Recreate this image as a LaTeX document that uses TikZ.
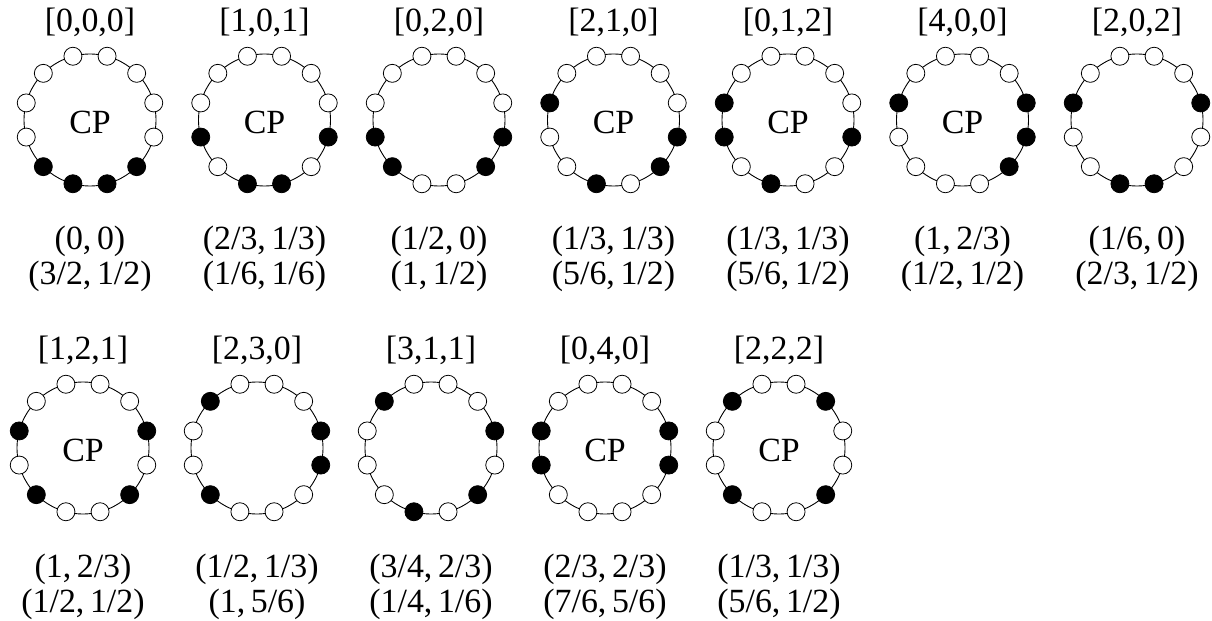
\documentclass[tikz,border=0pt]{standalone}
\usepackage{fontspec}
\setmainfont{Liberation Serif}
\begin{document}
\begin{tikzpicture}[x=1bp,y=-1bp,
  bead/.style={circle,draw,line width=0.8bp,minimum size=18bp,inner sep=0pt},
  ring/.style={circle,draw,line width=0.9bp,minimum size=132bp,inner sep=0pt},
  lbl/.style={font=\fontsize{34}{40}\selectfont,inner sep=0pt},
]
\useasboundingbox (0,0) rectangle (1212,621);
\newcommand\necklace[7]{%
  \node[ring] (#1) at (#2,#3) {};
  \foreach \s [count=\k] in {#5} {
    \pgfmathsetmacro\a{-15+30*\k}
    \node[bead,fill=\s] (#1-\k) at ({#2+66*cos(\a)},{#3-66*sin(\a)}) {};
  }
  \node[lbl] (#1-l) at (#2,#3-98) {#4};
  \node[lbl] (#1-t1) at (#2,#3+121) {#6};
  \node[lbl] (#1-t2) at (#2,#3+156) {#7};
}
% row 1
\necklace{n1}{90}{120}{[0,0,0]}{white,white,white,white,white,white,white,black,black,black,black,white}{(0,\,0)}{(3/2,\,1/2)}
\necklace{n2}{264.5}{120}{[1,0,1]}{white,white,white,white,white,white,black,white,black,black,white,black}{(2/3,\,1/3)}{(1/6,\,1/6)}
\necklace{n3}{439}{120}{[0,2,0]}{white,white,white,white,white,white,black,black,white,white,black,black}{(1/2,\,0)}{(1,\,1/2)}
\necklace{n4}{613.5}{120}{[2,1,0]}{white,white,white,white,white,black,white,white,black,white,black,black}{(1/3,\,1/3)}{(5/6,\,1/2)}
\necklace{n5}{788}{120}{[0,1,2]}{white,white,white,white,white,black,black,white,black,white,white,black}{(1/3,\,1/3)}{(5/6,\,1/2)}
\necklace{n6}{962.5}{120}{[4,0,0]}{black,white,white,white,white,black,white,white,white,white,black,black}{(1,\,2/3)}{(1/2,\,1/2)}
\necklace{n7}{1137}{120}{[2,0,2]}{black,white,white,white,white,black,white,white,black,black,white,white}{(1/6,\,0)}{(2/3,\,1/2)}
% row 2
\necklace{n8}{83}{448}{[1,2,1]}{black,white,white,white,white,black,white,black,white,white,black,white}{(1,\,2/3)}{(1/2,\,1/2)}
\necklace{n9}{257}{448}{[2,3,0]}{black,white,white,white,black,white,white,black,white,white,white,black}{(1/2,\,1/3)}{(1,\,5/6)}
\necklace{n10}{431}{448}{[3,1,1]}{black,white,white,white,black,white,white,white,black,white,black,white}{(3/4,\,2/3)}{(1/4,\,1/6)}
\necklace{n11}{605}{448}{[0,4,0]}{black,white,white,white,white,black,black,white,white,white,white,black}{(2/3,\,2/3)}{(7/6,\,5/6)}
\necklace{n12}{779}{448}{[2,2,2]}{white,black,white,white,black,white,white,black,white,white,black,white}{(1/3,\,1/3)}{(5/6,\,1/2)}
% centre labels
\foreach \n in {n1,n2,n4,n5,n6,n8,n11,n12}
  \node[lbl] (\n-cp) at ([yshift=-2bp]\n.center) {CP};
\end{tikzpicture}
\end{document}
